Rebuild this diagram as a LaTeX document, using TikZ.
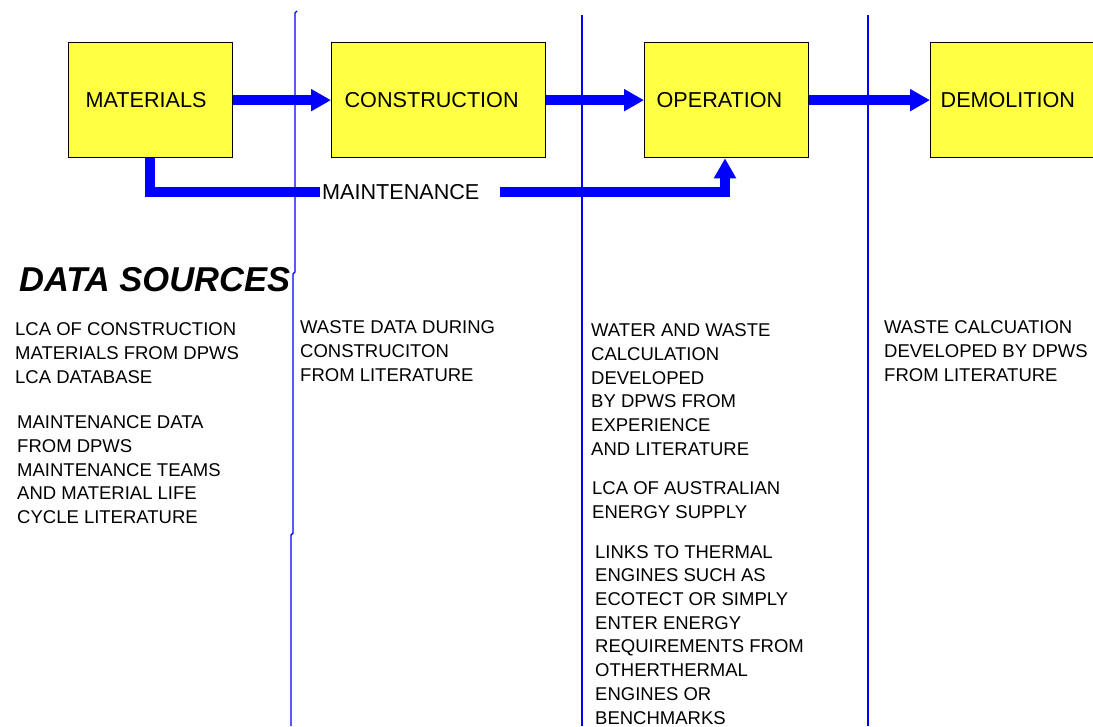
\documentclass[tikz,border=0pt]{standalone}
\usepackage{fontspec}
\setmainfont{Liberation Sans}
\usetikzlibrary{arrows.meta}
\definecolor{boxyellow}{RGB}{255,255,68}
\definecolor{flowblue}{RGB}{0,0,255}
\begin{document}
\begin{tikzpicture}[x=1pt,y=-1pt,
  stage/.style={draw=black, line width=1.3pt, fill=boxyellow, anchor=north west,
    minimum height=115pt, align=left, inner ysep=0pt,
    font=\fontsize{21.6}{24}\selectfont},
  flow/.style={draw=flowblue, line width=10pt, line join=miter},
  flowtip/.style={flow, -{Triangle[length=20pt,width=21pt]}},
  divider/.style={draw=flowblue, line width=1.4pt},
  note/.style={anchor=north west, inner sep=0pt, align=left,
    font=\fontsize{18.5}{23.7}\selectfont},
  heading/.style={anchor=west, inner sep=0pt,
    font=\fontsize{34.5}{38}\selectfont\bfseries\itshape}]

\useasboundingbox[fill=white] (0,0) rectangle (1093,726);

% life-cycle stages
\node[stage, text width=130pt, inner xsep=17pt] (mat) at (68,42) {MATERIALS};
\node[stage, text width=188pt, inner xsep=13pt] (con) at (331,42) {CONSTRUCTION};
\node[stage, text width=140pt, inner xsep=12pt] (ope) at (644,42) {OPERATION};
\node[stage, text width=146pt, inner xsep=10pt] (dem) at (930,42) {DEMOLITION};

% main flow between stages
\draw[flowtip] (mat.east) -- (con.west);
\draw[flowtip] (con.east) -- (ope.west);
\draw[flowtip] (ope.east) -- (dem.west);

% maintenance loop from materials into operation
\coordinate (mx) at (150,192);
\coordinate (ux) at (725,192);
\node[anchor=west, inner xsep=2pt, inner ysep=0pt,
  font=\fontsize{21.6}{24}\selectfont] (mt) at (320,192) {MAINTENANCE};
\draw[flow] (mat.south -| mx) |- (mt.west);
\draw[flowtip, shorten <=18pt] (mt.east) -| (ope.south -| ux);

% column dividers
\draw[divider] (297,11) -- (295,13) -- (295,272) -- (293,274) -- (293,533)
  -- (291,535) -- (291,726);
\draw[divider] (582,15) -- (582,726);
\draw[divider] (868,15) -- (868,726);

% data sources
\node[heading] (ds) at (19,280) {DATA SOURCES};

\node[note] (n1) at (15,322.5) {LCA OF CONSTRUCTION\\MATERIALS FROM DPWS\\LCA DATABASE};
\node[note] (n2) at (17,415.5) {MAINTENANCE DATA\\FROM DPWS\\MAINTENANCE TEAMS\\AND MATERIAL LIFE\\CYCLE LITERATURE};
\node[note] (n3) at (300,320.5) {WASTE DATA DURING\\CONSTRUCITON\\FROM LITERATURE};
\node[note] (n4) at (591,323.5) {WATER AND WASTE\\CALCULATION\\DEVELOPED\\BY DPWS FROM\\EXPERIENCE\\AND LITERATURE};
\node[note] (n5) at (592,481.5) {LCA OF AUSTRALIAN\\ENERGY SUPPLY};
\node[note] (n6) at (595,545) {LINKS TO THERMAL\\ENGINES SUCH AS\\ECOTECT OR SIMPLY\\ENTER ENERGY\\REQUIREMENTS FROM\\OTHERTHERMAL\\ENGINES OR\\BENCHMARKS};
\node[note] (n7) at (884,320.5) {WASTE CALCUATION\\DEVELOPED BY DPWS\\FROM LITERATURE};
\end{tikzpicture}
\end{document}
